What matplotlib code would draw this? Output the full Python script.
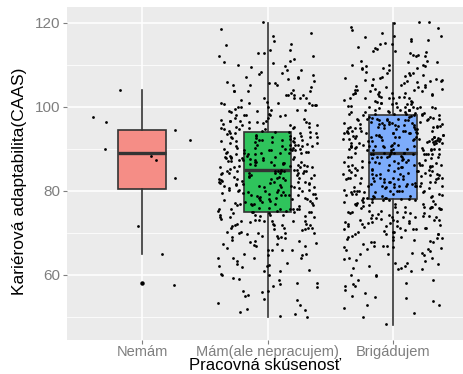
import numpy as np
import matplotlib.pyplot as plt
import matplotlib.colors as mcolors

plt.rcParams['font.family'] = ['Liberation Sans', 'DejaVu Sans']

# -----------------------------
# Data
# -----------------------------
categories = ["Nemám", "Mám(ale nepracujem)", "Brigádujem"]
fill_colors = ["#F8766D", "#00BA38", "#619CFF"]

# box statistics per group
box_low = [65, 50, 48]
box_q1 = [80.5, 75, 78]
box_med = [89, 85, 89]
box_q3 = [94.5, 94, 98]
box_high = [104, 120, 120]
nemam_outliers = [58]

# Nemám: the few single answers and where they sit horizontally
nemam_values = [104.0, 97.7, 96.4, 90.1, 94.4, 92.2, 88.3, 87.3, 83.0, 71.7, 65.0, 57.7]
nemam_offsets = [-0.18, -0.39, -0.29, -0.30, 0.26, 0.38, 0.07, 0.11, 0.26, -0.03, 0.16, 0.25]

# other groups: respondents per CAAS score 48..120 (estimated from the point clouds)
scores = list(range(48, 121))
mam_counts = [
    0, 0, 2, 2, 2, 2, 2, 2, 3, 2,
    3, 3, 3, 3, 4, 3, 4, 4, 5, 5,
    5, 6, 7, 7, 8, 9, 9, 10, 10, 11,
    11, 11, 11, 11, 12, 12, 12, 12, 13, 12,
    12, 12, 12, 11, 11, 11, 10, 9, 9, 8,
    7, 7, 6, 6, 5, 5, 5, 4, 4, 4,
    4, 3, 3, 3, 2, 2, 2, 2, 1, 1,
    1, 1, 1,
]
brig_counts = [
    1, 0, 1, 1, 1, 2, 2, 2, 2, 2,
    2, 2, 3, 3, 4, 4, 4, 5, 5, 6,
    6, 7, 8, 8, 9, 9, 10, 10, 11, 11,
    12, 12, 13, 13, 13, 13, 13, 13, 13, 13,
    12, 15, 16, 16, 16, 16, 16, 15, 15, 15,
    13, 12, 11, 10, 9, 9, 8, 8, 7, 6,
    6, 5, 5, 4, 4, 4, 3, 3, 3, 3,
    2, 2, 3,
]

# -----------------------------
# position jitter like geom_jitter (width 0.4, height 0.4)
# -----------------------------
rng = np.random.default_rng(7)


def jitter(center, counts):
    vals = np.repeat(scores, counts).astype(float)
    dx = rng.uniform(-0.4, 0.4, len(vals))
    dy = rng.uniform(-0.4, 0.4, len(vals))
    return center + dx, vals + dy


# -----------------------------
# Figure
# -----------------------------
fig = plt.figure(figsize=(4.63, 3.74), dpi=100)
ax = fig.add_axes([67 / 463, 1 - 340 / 374, 396 / 463, 333 / 374])
ax.set_facecolor("#EBEBEB")

positions = [1, 2, 3]
stats = []
for k in range(3):
    stats.append(dict(whislo=box_low[k], q1=box_q1[k], med=box_med[k],
                      q3=box_q3[k], whishi=box_high[k],
                      fliers=nemam_outliers if k == 0 else []))

bp = ax.bxp(stats, positions=positions, widths=0.38, patch_artist=True,
            showcaps=False,
            boxprops=dict(edgecolor="#333333", linewidth=1.2),
            whiskerprops=dict(color="#333333", linewidth=1.2),
            medianprops=dict(color="#333333", linewidth=2.4),
            flierprops=dict(marker="o", markersize=2.2, markerfacecolor="black",
                            markeredgecolor="black", linestyle="none"),
            zorder=2)
# fill alpha 0.8 over the grey panel
bg = np.array(mcolors.to_rgb("#EBEBEB"))
for patch, col in zip(bp["boxes"], fill_colors):
    patch.set_facecolor(0.8 * np.array(mcolors.to_rgb(col)) + 0.2 * bg)

# points
ax.scatter(1 + np.array(nemam_offsets), nemam_values, s=4, c="black",
           linewidths=0, zorder=3)
x2, y2 = jitter(2, mam_counts)
ax.scatter(x2, y2, s=4, c="black", linewidths=0, zorder=3)
x3, y3 = jitter(3, brig_counts)
ax.scatter(x3, y3, s=4, c="black", linewidths=0, zorder=3)

# -----------------------------
# Axes styling (ggplot grey theme)
# -----------------------------
ax.set_xlim(0.4, 3.56)
ax.set_ylim(44.5, 123.8)
ax.set_yticks([60, 80, 100, 120])
ax.set_yticks([50, 70, 90, 110], minor=True)
ax.set_xticks(positions)
ax.set_xticklabels(categories)
ax.set_axisbelow(True)
ax.grid(True, which="major", color="white", linewidth=1.1)
ax.grid(True, which="minor", axis="y", color="white", linewidth=0.55)
for s in ax.spines.values():
    s.set_visible(False)
ax.tick_params(which="major", length=3, width=0.8, color="#7F7F7F",
               labelcolor="#7F7F7F", labelsize=11, pad=1.5)
ax.tick_params(axis="x", pad=0.5, labelsize=10.5)
ax.tick_params(which="minor", length=0)

ax.set_ylabel("Kariérová adaptabilita(CAAS)", fontsize=12.5, color="black")
ax.yaxis.set_label_coords(-0.101, 0.477)
ax.set_xlabel("Pracovná skúsenosť", fontsize=12, color="black", va="baseline")
ax.xaxis.set_label_coords(0.5, -0.091)

fig.savefig("out.png", dpi=100)
